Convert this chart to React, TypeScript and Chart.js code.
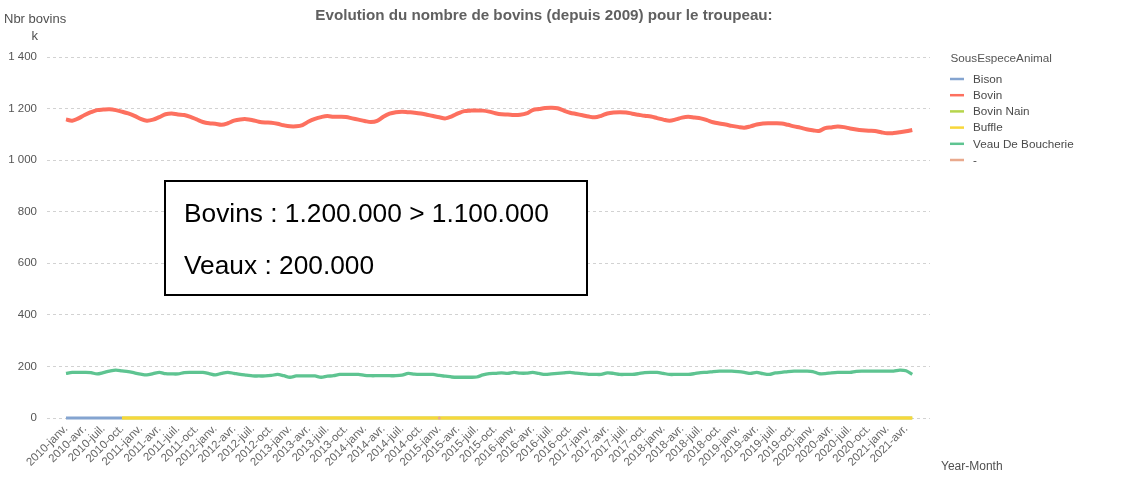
import React, { useEffect, useRef } from "react";
import { Chart, registerables } from "chart.js";

Chart.register(...registerables);

// ---- data (thousands of animals, monthly from 2010-janv.) ----
const xTickLabels = [
  "2010-janv.", "2010-avr.", "2010-juil.", "2010-oct.",
  "2011-janv.", "2011-avr.", "2011-juil.", "2011-oct.",
  "2012-janv.", "2012-avr.", "2012-juil.", "2012-oct.",
  "2013-janv.", "2013-avr.", "2013-juil.", "2013-oct.",
  "2014-janv.", "2014-avr.", "2014-juil.", "2014-oct.",
  "2015-janv.", "2015-avr.", "2015-juil.", "2015-oct.",
  "2016-janv.", "2016-avr.", "2016-juil.", "2016-oct.",
  "2017-janv.", "2017-avr.", "2017-juil.", "2017-oct.",
  "2018-janv.", "2018-avr.", "2018-juil.", "2018-oct.",
  "2019-janv.", "2019-avr.", "2019-juil.", "2019-oct.",
  "2020-janv.", "2020-avr.", "2020-juil.", "2020-oct.",
  "2021-janv.", "2021-avr.",
];
const monthsPerTick = 3;

const yTickLabels = ["0", "200", "400", "600", "800", "1 000", "1 200", "1 400"];

const bovinValues = [
  1158, 1153, 1162, 1175, 1186, 1194, 1196, 1197, 1194, 1188,
  1181, 1172, 1160, 1153, 1157, 1167, 1178, 1181, 1177, 1175,
  1168, 1158, 1148, 1143, 1141, 1137, 1143, 1153, 1158, 1159,
  1155, 1149, 1146, 1145, 1141, 1135, 1131, 1131, 1136, 1150,
  1160, 1167, 1171, 1168, 1168, 1167, 1162, 1157, 1152, 1148,
  1152, 1168, 1180, 1186, 1188, 1186, 1184, 1181, 1176, 1171,
  1166, 1162, 1170, 1181, 1190, 1192, 1193, 1192, 1188, 1182,
  1178, 1177, 1175, 1176, 1181, 1194, 1198, 1202, 1203, 1201,
  1192, 1184, 1179, 1174, 1169, 1166, 1172, 1181, 1185, 1186,
  1185, 1180, 1176, 1172, 1169, 1163, 1157, 1153, 1158, 1165,
  1168, 1165, 1162, 1155, 1147, 1142, 1138, 1133, 1129, 1126,
  1131, 1138, 1142, 1143, 1143, 1142, 1137, 1131, 1126, 1120,
  1116, 1113, 1124, 1127, 1130, 1128, 1123, 1119, 1116, 1114,
  1113, 1108, 1104, 1105, 1108, 1112, 1117,
];

const veauValues = [
  173, 177, 177, 177, 176, 171, 176, 182, 186, 183,
  180, 175, 170, 167, 172, 177, 172, 171, 171, 176,
  177, 177, 177, 172, 167, 173, 177, 173, 169, 166,
  163, 163, 163, 165, 169, 164, 158, 163, 163, 163,
  163, 158, 162, 164, 169, 169, 169, 169, 165, 164,
  164, 164, 164, 164, 166, 173, 170, 169, 169, 169,
  165, 162, 159, 158, 158, 158, 159, 167, 172, 173,
  175, 173, 177, 174, 174, 177, 173, 169, 171, 173,
  175, 177, 174, 172, 169, 169, 169, 175, 173, 169,
  169, 169, 172, 176, 177, 177, 173, 169, 169, 169,
  169, 172, 176, 177, 180, 182, 182, 182, 180, 177,
  173, 177, 172, 169, 175, 177, 180, 182, 182, 182,
  180, 172, 172, 175, 177, 177, 177, 181, 182, 182,
  182, 182, 182, 182, 186, 183, 169,
];

// Bison: months 0..9
const bisonStart = 0;
const bisonValues = [0, 0, 0, 0, 0, 0, 0, 0, 0, 0];

// Buffle & Bovin Nain: months 9..136
const buffleStart = 9;
const buffleValues = [
  0, 0, 0, 0, 0, 0, 0, 0, 0, 0, 0, 0, 0, 0, 0, 0,
  0, 0, 0, 0, 0, 0, 0, 0, 0, 0, 0, 0, 0, 0, 0, 0,
  0, 0, 0, 0, 0, 0, 0, 0, 0, 0, 0, 0, 0, 0, 0, 0,
  0, 0, 0, 0, 0, 0, 0, 0, 0, 0, 0, 0, 0, 0, 0, 0,
  0, 0, 0, 0, 0, 0, 0, 0, 0, 0, 0, 0, 0, 0, 0, 0,
  0, 0, 0, 0, 0, 0, 0, 0, 0, 0, 0, 0, 0, 0, 0, 0,
  0, 0, 0, 0, 0, 0, 0, 0, 0, 0, 0, 0, 0, 0, 0, 0,
  0, 0, 0, 0, 0, 0, 0, 0, 0, 0, 0, 0, 0, 0, 0, 0,
];
const bovinNainStart = 9;
const bovinNainValues = [
  0, 0, 0, 0, 0, 0, 0, 0, 0, 0, 0, 0, 0, 0, 0, 0,
  0, 0, 0, 0, 0, 0, 0, 0, 0, 0, 0, 0, 0, 0, 0, 0,
  0, 0, 0, 0, 0, 0, 0, 0, 0, 0, 0, 0, 0, 0, 0, 0,
  0, 0, 0, 0, 0, 0, 0, 0, 0, 0, 0, 0, 0, 0, 0, 0,
  0, 0, 0, 0, 0, 0, 0, 0, 0, 0, 0, 0, 0, 0, 0, 0,
  0, 0, 0, 0, 0, 0, 0, 0, 0, 0, 0, 0, 0, 0, 0, 0,
  0, 0, 0, 0, 0, 0, 0, 0, 0, 0, 0, 0, 0, 0, 0, 0,
  0, 0, 0, 0, 0, 0, 0, 0, 0, 0, 0, 0, 0, 0, 0, 0,
];
// "-" : a single month (2015-janv.)
const tiretStart = 60;
const tiretValues = [0];

const seriesLabels = ["Bison", "Bovin", "Bovin Nain", "Buffle", "Veau De Boucherie", "-"];
const seriesColors = ["#84a4d0", "#fd705f", "#b6d54c", "#f8d73a", "#5ec491", "#e9a98d"];

const titleText = "Evolution du nombre de bovins (depuis 2009) pour le troupeau:";
const legendTitle = "SousEspeceAnimal";
const yTitleLines = ["Nbr bovins", "k"];
const xTitle = "Year-Month";
const noteLines = ["Bovins : 1.200.000 > 1.100.000", "Veaux : 200.000"];

const FONT = '"Liberation Sans", Arial, sans-serif';

const toPoints = (vals: number[], start: number) =>
  vals.map((v, i) => ({ x: start + i, y: v }));

const overlayPlugin = {
  id: "overlayTexts",
  afterDraw(chart: any) {
    const ctx: CanvasRenderingContext2D = chart.ctx;
    ctx.save();
    // title
    ctx.fillStyle = "#606060";
    ctx.font = `bold 15.2px ${FONT}`;
    ctx.textAlign = "center";
    ctx.textBaseline = "alphabetic";
    ctx.fillText(titleText, 544, 20);

    // y title
    ctx.fillStyle = "#505050";
    ctx.font = `13px ${FONT}`;
    ctx.textAlign = "left";
    ctx.fillText(yTitleLines[0], 4, 23);
    ctx.fillText(yTitleLines[1], 31.5, 40);

    // x title
    ctx.font = `12px ${FONT}`;
    ctx.textBaseline = "middle";
    ctx.fillText(xTitle, 941, 467);

    // legend
    ctx.fillStyle = "#555555";
    ctx.font = `11.7px ${FONT}`;
    ctx.fillText(legendTitle, 950.5, 58.5);
    chart.data.datasets.forEach((ds: any, k: number) => {
      const y = 79 + k * 16.2;
      ctx.strokeStyle = ds.borderColor;
      ctx.lineWidth = 2.5;
      ctx.beginPath();
      ctx.moveTo(950, y);
      ctx.lineTo(964, y);
      ctx.stroke();
      ctx.fillStyle = "#4a4a4a";
      ctx.fillText(ds.label, 973, y + 0.5);
    });

    // note box
    ctx.fillStyle = "#ffffff";
    ctx.fillRect(165, 181, 422, 114);
    ctx.strokeStyle = "#000000";
    ctx.lineWidth = 2;
    ctx.strokeRect(165, 181, 422, 114);
    ctx.fillStyle = "#000000";
    ctx.font = `26.3px ${FONT}`;
    ctx.textBaseline = "alphabetic";
    ctx.fillText(noteLines[0], 184, 222);
    ctx.fillText(noteLines[1], 184, 274);
    ctx.restore();
  },
};

export default function App() {
  const canvasRef = useRef<HTMLCanvasElement | null>(null);

  useEffect(() => {
    if (!canvasRef.current) return;
    const starts = [bisonStart, 0, bovinNainStart, buffleStart, 0, tiretStart];
    const values = [bisonValues, bovinValues, bovinNainValues, buffleValues, veauValues, tiretValues];
    const widths = [3, 4, 3, 3, 3.3, 0];
    const tensions = [0, 0.35, 0, 0, 0.3, 0];

    const datasets = seriesLabels.map((label, k) => ({
      label,
      data: toPoints(values[k], starts[k]),
      borderColor: seriesColors[k],
      backgroundColor: seriesColors[k],
      borderWidth: widths[k],
      tension: tensions[k],
      pointRadius: label === "-" ? 1.5 : 0,
      pointBorderWidth: 0,
      pointBackgroundColor: seriesColors[k],
      borderJoinStyle: "round" as const,
      fill: false,
      clip: 8,
      order: seriesLabels.length - k,
    }));

    const chart = new Chart(canvasRef.current, {
      type: "line",
      data: { datasets },
      options: {
        responsive: false,
        animation: false,
        layout: { padding: { left: 7, right: 216, top: 57, bottom: 5 } },
        plugins: {
          legend: { display: false },
          title: { display: false },
          tooltip: { enabled: false },
        },
        scales: {
          x: {
            type: "linear",
            min: -3.05,
            max: 138.85,
            afterBuildTicks: (scale: any) => {
              scale.ticks = xTickLabels.map((_, k) => ({ value: k * monthsPerTick }));
            },
            afterFit: (scale: any) => {
              scale.height = 55;
            },
            grid: { display: false, drawTicks: false },
            border: { display: false },
            ticks: {
              autoSkip: false,
              maxRotation: 45,
              minRotation: 45,
              padding: 4,
              color: "#666666",
              font: { family: FONT, size: 11.5 },
              callback: (v: any) => xTickLabels[Math.round(Number(v) / monthsPerTick)] ?? "",
            },
          },
          y: {
            min: 0,
            max: 1400,
            afterFit: (scale: any) => {
              scale.width = 40;
            },
            grid: { color: "#d2d2d2", lineWidth: 1, drawTicks: false },
            border: { display: false, dash: [3, 3] },
            ticks: {
              stepSize: 200,
              padding: 10,
              color: "#555555",
              font: { family: FONT, size: 11.5 },
              callback: (v: any) => yTickLabels[Math.round(Number(v) / 200)] ?? "",
            },
          },
        },
      },
      plugins: [overlayPlugin],
    });
    return () => chart.destroy();
  }, []);

  return (
    <div style={{ position: "absolute", left: 0, top: 0, width: 1146, height: 478, background: "#fff" }}>
      <canvas ref={canvasRef} width={1146} height={478} style={{ display: "block" }} />
    </div>
  );
}
